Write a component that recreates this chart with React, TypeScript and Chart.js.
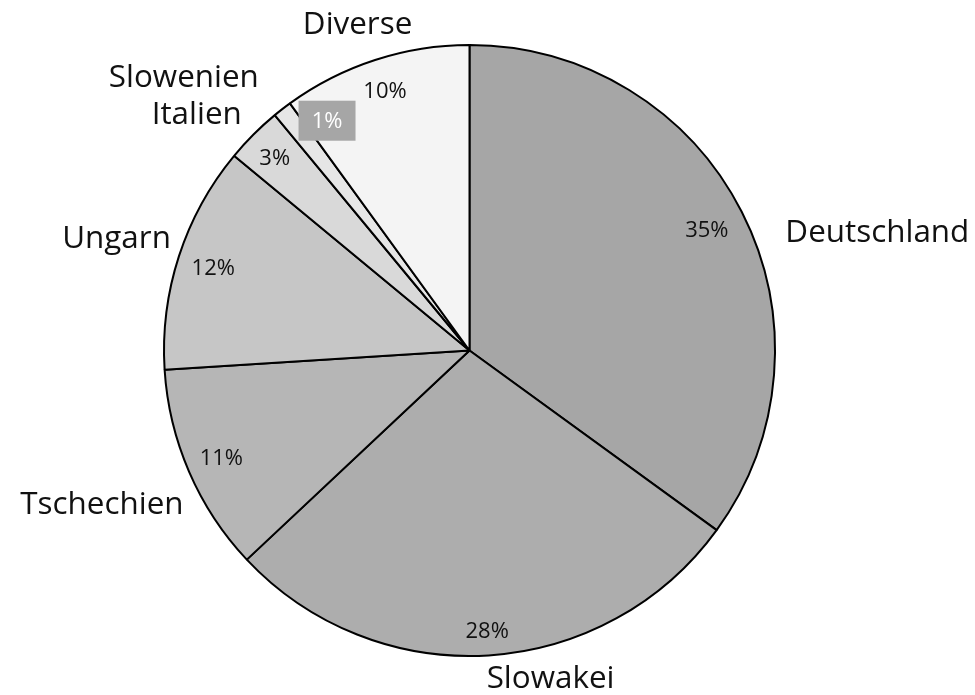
import React, { useEffect, useRef } from "react";
import { Chart, registerables } from "chart.js";

Chart.register(...registerables);

const categories = ["Deutschland", "Slowakei", "Tschechien", "Ungarn", "Italien", "Slowenien", "Diverse"];
const shares = [35, 28, 11, 12, 3, 1, 10];
const percentLabels = ["35%", "28%", "11%", "12%", "3%", "1%", "10%"];
const sliceColors = ["#a6a6a6", "#adadad", "#b6b6b6", "#c6c6c6", "#d9d9d9", "#e6e6e6", "#f4f4f4"];

// label layout: angle offset (deg) from slice mid-angle, radius factor, alignment
const outerLayout = [
  { dA: 6.2, rf: 1.106, align: "left" },
  { dA: -10.4, rf: 1.097, align: "center" },
  { dA: -4.6, rf: 1.06, align: "right" },
  { dA: 3, rf: 1.047, align: "right" },
  { dA: -3.9, rf: 1.185, align: "center" },
  { dA: -8.2, rf: 1.3, align: "center" },
  { dA: -0.8, rf: 1.137, align: "center" },
];
const innerLayout = [
  { dA: 0, rf: 0.872 },
  { dA: 0, rf: 0.92 },
  { dA: 0, rf: 0.885 },
  { dA: 0, rf: 0.882 },
  { dA: -0.3, rf: 0.897 },
  { dA: 6.0, rf: 0.885, boxed: true },
  { dA: 0, rf: 0.895 },
];

const labelPlugin = {
  id: "pieLabels",
  afterDatasetsDraw(chart: any) {
    const ctx = chart.ctx;
    const meta = chart.getDatasetMeta(0);
    ctx.save();
    meta.data.forEach((arc: any, i: number) => {
      const { x, y, startAngle, endAngle, outerRadius } = arc.getProps(
        ["x", "y", "startAngle", "endAngle", "outerRadius"],
        true
      );
      const mid = (startAngle + endAngle) / 2;
      // inner
      const il = innerLayout[i];
      const ia = mid + (il.dA * Math.PI) / 180;
      const ix = x + Math.cos(ia) * outerRadius * il.rf;
      const iy = y + Math.sin(ia) * outerRadius * il.rf;
      ctx.font = "22px 'Open Sans'";
      ctx.textAlign = "center";
      ctx.textBaseline = "middle";
      if ((il as any).boxed) {
        const w = 57, h = 40;
        ctx.fillStyle = "#a6a6a6";
        ctx.fillRect(ix - w / 2, iy - h / 2, w, h);
        ctx.fillStyle = "#ffffff";
      } else {
        ctx.fillStyle = "#111111";
      }
      ctx.fillText(percentLabels[i], ix, iy + 1);
      // outer
      const ol = outerLayout[i];
      const oa = mid + (ol.dA * Math.PI) / 180;
      const ox = x + Math.cos(oa) * outerRadius * ol.rf;
      const oy = y + Math.sin(oa) * outerRadius * ol.rf;
      ctx.font = "31.4px 'Open Sans'";
      ctx.textAlign = ol.align;
      ctx.fillStyle = "#111111";
      ctx.fillText(categories[i], ox, oy + 3);
    });
    ctx.restore();
  },
};

export default function App() {
  const ref = useRef<HTMLCanvasElement>(null);
  useEffect(() => {
    const chart = new Chart(ref.current!, {
      type: "pie",
      data: {
        labels: categories,
        datasets: [
          {
            data: shares,
            backgroundColor: sliceColors,
            borderColor: "#000000",
            borderWidth: 2,
          },
        ],
      },
      options: {
        animation: false,
        responsive: false,
        radius: 305.5,
        layout: { padding: { left: 0, right: 36, top: 6, bottom: 0 } },
        plugins: {
          legend: { display: false },
          tooltip: { enabled: false },
        },
      },
      plugins: [labelPlugin],
    } as any);
    return () => chart.destroy();
  }, []);
  return (
    <div style={{ position: "fixed", left: 0, top: 0, width: 975, height: 695, background: "#fff" }}>
      <canvas ref={ref} width={975} height={695} style={{ width: 975, height: 695 }} />
    </div>
  );
}
